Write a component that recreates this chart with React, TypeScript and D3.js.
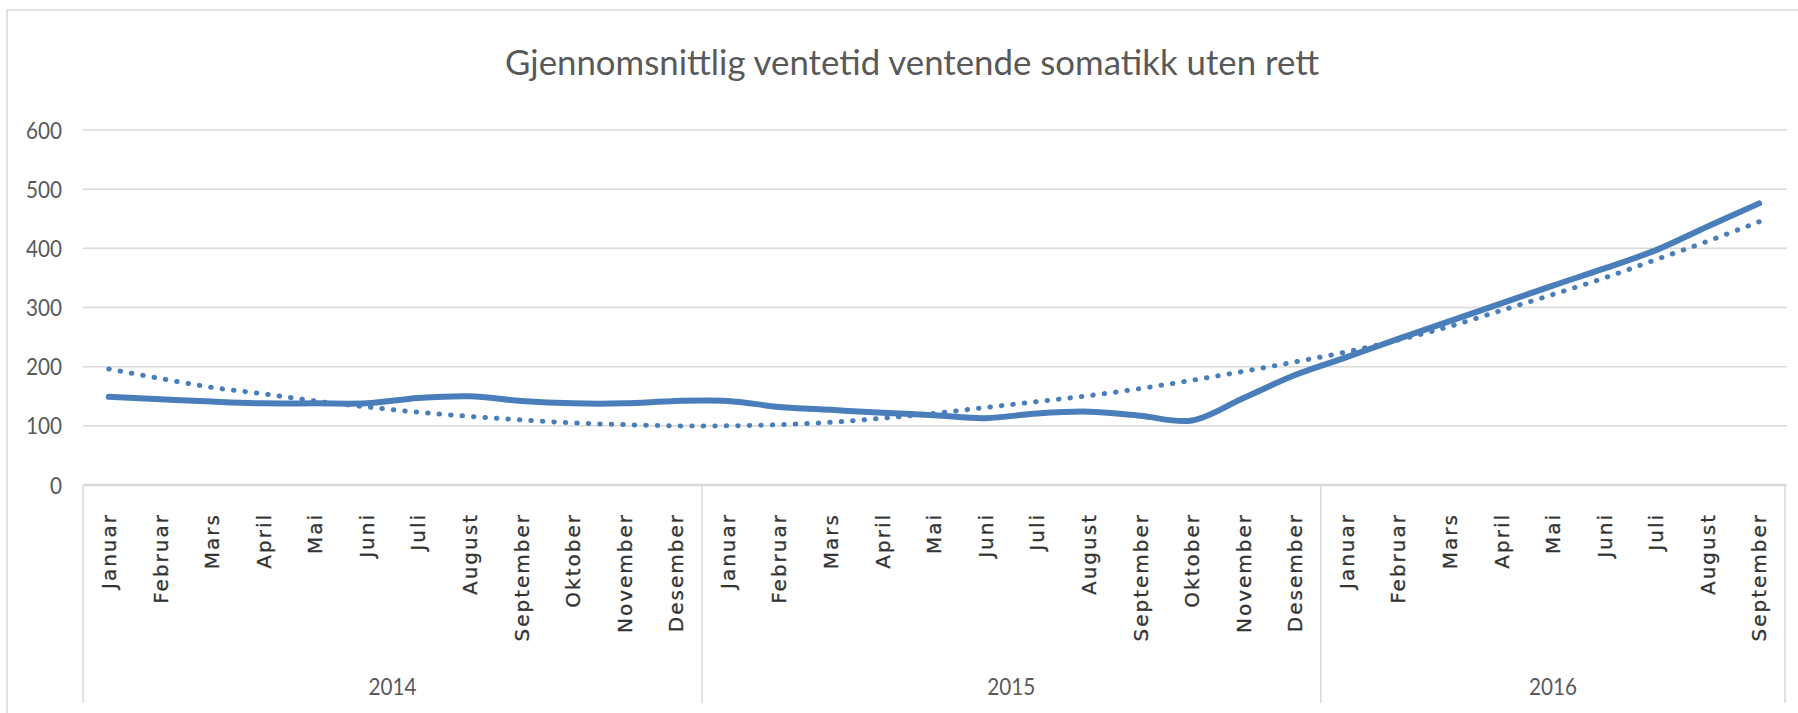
import React from "react";
import * as d3 from "d3";

const title = "Gjennomsnittlig ventetid ventende somatikk uten rett";
const years = ["2014", "2015", "2016"];
const monthsPerYear = [12, 12, 9];
const monthNames = ["Januar", "Februar", "Mars", "April", "Mai", "Juni", "Juli", "August", "September", "Oktober", "November", "Desember"];
const actual = [
  149, 145, 141, 138, 138, 138, 147, 150, 142, 138, 138, 142,
  142, 132, 127, 122, 118, 113, 121, 124, 117, 109, 147, 186,
  216, 247, 277, 307, 337, 366, 397, 437, 476,
];
const trend = [
  196, 180, 165, 154, 142, 132, 123, 116, 110, 105, 102, 100,
  100, 102, 106, 113, 121, 131, 141, 151, 163, 177, 192, 208,
  225, 245, 268, 295, 322, 350, 381, 412, 445,
];
const yTicks = [0, 100, 200, 300, 400, 500, 600];

const W = 1798;
const H = 713;
const left = 83;
const right = 1785;
const top = 130;
const bottom = 485;
const axisBottom = 703;
const blue = "#4a7ebb";
const grid = "#d9d9d9";
const textCol = "#595959";

type Cat = { key: string; month: string; year: string };
const cats: Cat[] = [];
years.forEach((y, yi) => {
  for (let m = 0; m < monthsPerYear[yi]; m++) cats.push({ key: `${y}-${m}`, month: monthNames[m], year: y });
});

export default function App() {
  const x = d3.scaleBand<string>().domain(cats.map((c) => c.key)).range([left, right]).paddingInner(0).paddingOuter(0);
  const y = d3.scaleLinear().domain([0, 600]).range([bottom, top]);
  const cx = (i: number) => (x(cats[i].key) as number) + x.bandwidth() / 2;

  const line = d3
    .line<number>()
    .x((_, i) => cx(i))
    .y((d) => y(d))
    .curve(d3.curveCatmullRom.alpha(0.5));

  const bounds: number[] = [];
  let idx = 0;
  const yearCenters: { year: string; x: number }[] = [];
  monthsPerYear.forEach((n, yi) => {
    const start = x(cats[idx].key) as number;
    const end = (x(cats[idx + n - 1].key) as number) + x.bandwidth();
    bounds.push(start);
    yearCenters.push({ year: years[yi], x: (start + end) / 2 });
    idx += n;
  });
  bounds.push(right);

  return (
    <svg width={W} height={H} style={{ position: "absolute", left: 0, top: 0, background: "#fff" }}>
      <rect x={7} y={10} width={W} height={H} fill="#fff" stroke={grid} strokeWidth={1.5} />
      <text
        x={912}
        y={75}
        textAnchor="middle"
        fontFamily="Lato, 'Open Sans', sans-serif"
        fontSize={35}
        fill={textCol}
        textLength={814}
        lengthAdjust="spacingAndGlyphs"
      >
        {title}
      </text>
      {yTicks.map((t) => (
        <g key={t}>
          {t > 0 && <line x1={left} x2={right + 2} y1={y(t)} y2={y(t)} stroke={grid} strokeWidth={1.5} />}
          <text
            x={62}
            y={y(t)}
            dy="0.36em"
            textAnchor="end"
            fontFamily="Lato, sans-serif"
            fontSize={24}
            fill={textCol}
            textLength={String(t).length * 12}
            lengthAdjust="spacingAndGlyphs"
          >
            {t}
          </text>
        </g>
      ))}
      <line x1={left} x2={right + 2} y1={bottom} y2={bottom} stroke={grid} strokeWidth={2.5} />
      {bounds.map((b, i) => (
        <line key={i} x1={b} x2={b} y1={bottom} y2={axisBottom} stroke={grid} strokeWidth={1.5} />
      ))}
      {cats.map((c, i) => (
        <text
          key={c.key}
          transform={`translate(${cx(i)},513) rotate(-90)`}
          dy="0.36em"
          textAnchor="end"
          fontFamily="'DejaVu Sans', Verdana, sans-serif"
          fontSize={20}
          letterSpacing={2}
          fill="#333333"
          stroke="#333333"
          strokeWidth={0.3}
        >
          {c.month}
        </text>
      ))}
      {yearCenters.map((yc) => (
        <text
          key={yc.year}
          x={yc.x}
          y={686}
          dy="0.36em"
          textAnchor="middle"
          fontFamily="Lato, sans-serif"
          fontSize={24}
          fill={textCol}
          textLength={48}
          lengthAdjust="spacingAndGlyphs"
        >
          {yc.year}
        </text>
      ))}
      <path d={line(trend) || ""} fill="none" stroke={blue} strokeWidth={5} strokeDasharray="0.5 11" strokeLinecap="round" />
      <path d={line(actual) || ""} fill="none" stroke={blue} strokeWidth={6} strokeLinecap="round" strokeLinejoin="round" />
    </svg>
  );
}
